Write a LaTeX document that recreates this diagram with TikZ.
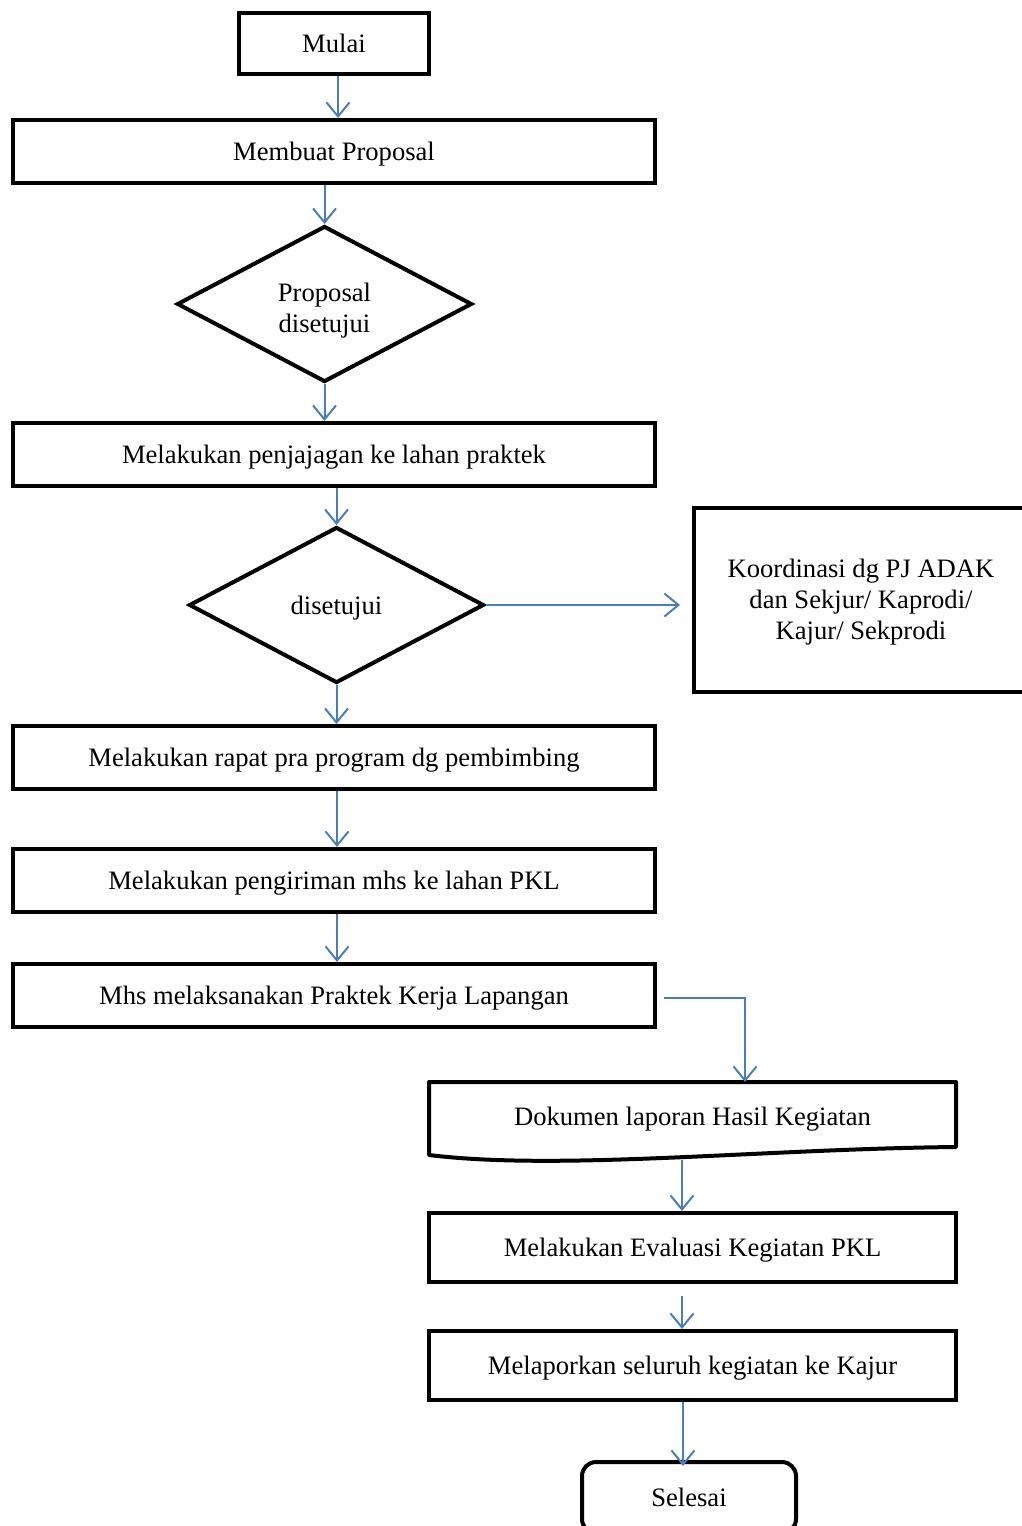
\documentclass[tikz,border=0pt]{standalone}
\usepackage{fontspec}
\setmainfont{Liberation Serif}
\usetikzlibrary{positioning,shapes.geometric,arrows.meta}
\definecolor{flowblue}{RGB}{74,126,187}
\begin{document}
\begin{tikzpicture}[
  x=1pt, y=1pt,
  every node/.style={font=\fontsize{26.6}{31}\selectfont, align=center, inner sep=0pt, text depth=0pt},
  box/.style={draw, line width=4pt, minimum width=642pt, minimum height=63pt},
  smallbox/.style={box, minimum width=527pt, minimum height=69pt},
  decision/.style={draw, diamond, line width=4pt, minimum width=295pt, minimum height=156pt},
  arr/.style={->, draw=flowblue, line width=2pt},
  >={Straight Barb[length=14pt,width=23pt]}
]
\useasboundingbox (0,0) rectangle (1022,-1526);
\node[box, minimum width=190pt, minimum height=61pt] (mulai) at (334,-43.5) {Mulai};
\node[box] (membuat) [below=42pt of mulai] {Membuat Proposal};
\node[decision, text height=57pt] (dis1) [below=39pt of membuat, xshift=-9.5pt] {Proposal\\disetujui};
\node[box] (penjajagan) [below=37pt of dis1, xshift=9.5pt] {Melakukan penjajagan ke lahan praktek};
\node[decision] (dis2) [below=37pt of penjajagan, xshift=2.5pt] {disetujui};
\node[box, minimum width=334pt, minimum height=184pt] (koord) [right=206pt of dis2, yshift=5.5pt] {Koordinasi dg PJ ADAK\\dan Sekjur/ Kaprodi/\\Kajur/ Sekprodi};
\node[box] (rapat) [below=39pt of dis2, xshift=-2.5pt] {Melakukan rapat pra program dg pembimbing};
\node[box] (pengiriman) [below=56pt of rapat] {Melakukan pengiriman mhs ke lahan PKL};
\node[box] (mhs) [below=48pt of pengiriman] {Mhs melaksanakan Praktek Kerja Lapangan};
\node[minimum width=527pt, minimum height=63pt, outer sep=0pt, text height=24.6pt] (dok) [below=53pt of mhs, xshift=358.5pt] {Dokumen laporan Hasil Kegiatan};
\draw[line width=4pt, line join=round] (dok.north west) -- (dok.north east) -- ([yshift=-2pt]dok.south east)
  .. controls +(-196,-2) and +(131,-16) .. ([yshift=-10pt]dok.south west) -- cycle;
\node[smallbox] (eval) [below=66pt of dok] {Melakukan Evaluasi Kegiatan PKL};
\node[smallbox] (lapor) [below=45pt of eval] {Melaporkan seluruh kegiatan ke Kajur};
\node[box, rounded corners=14pt, minimum width=214pt, minimum height=71pt] (selesai) [below=58pt of lapor, xshift=-3.5pt] {Selesai};
\draw[arr] ([xshift=4pt]mulai.south) -- ([xshift=4pt]membuat.north);
\draw[arr] (dis1.north |- membuat.south) -- (dis1.north);
\draw[arr] (dis1.south) -- (dis1.south |- penjajagan.north);
\draw[arr] (dis2.north |- penjajagan.south) -- (dis2.north);
\draw[arr] (dis2.east) -- ([xshift=-12pt]koord.west |- dis2.east);
\draw[arr] (dis2.south) -- (dis2.south |- rapat.north);
\draw[arr] ([xshift=3pt]rapat.south) -- ([xshift=3pt]pengiriman.north);
\draw[arr] ([xshift=3pt]pengiriman.south) -- ([xshift=3pt]mhs.north);
\draw[arr] ([xshift=7pt,yshift=-2.5pt]mhs.east) -| ([xshift=52.5pt]dok.north);
\draw[arr] ([xshift=-10.5pt,yshift=-15pt]dok.south) -- ([xshift=-10.5pt]eval.north);
\draw[arr] ([xshift=-10.5pt,yshift=-12pt]eval.south) -- ([xshift=-10.5pt]lapor.north);
\draw[arr] ([xshift=-9.5pt]lapor.south) -- ([xshift=-6pt,yshift=-6pt]selesai.north);
\end{tikzpicture}
\end{document}
